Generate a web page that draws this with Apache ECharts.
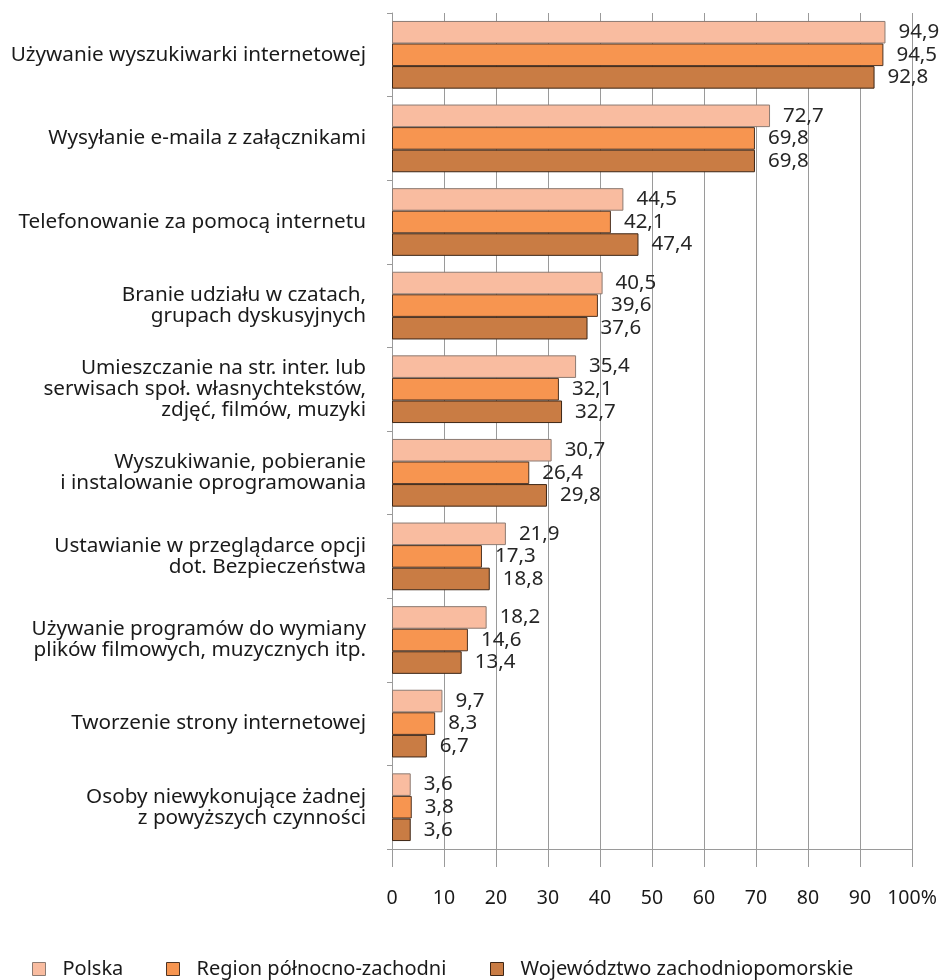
<!DOCTYPE html>
<html>
<head>
<meta charset="utf-8">
<script src="https://cdn.jsdelivr.net/npm/echarts@6/dist/echarts.min.js"></script>
<style>
  html, body { margin: 0; padding: 0; background: #fff; }
  #chart { width: 943px; height: 980px; }
</style>
</head>
<body>
<div id="chart"></div>
<script>
// Activities (top to bottom)
const categories = [
  'Używanie wyszukiwarki internetowej',
  'Wysyłanie e-maila z załącznikami',
  'Telefonowanie za pomocą internetu',
  'Branie udziału w czatach,\ngrupach dyskusyjnych',
  'Umieszczanie na str. inter. lub\nserwisach społ. własnychtekstów,\nzdjęć, filmów, muzyki',
  'Wyszukiwanie, pobieranie\ni instalowanie oprogramowania',
  'Ustawianie w przeglądarce opcji\ndot. Bezpieczeństwa',
  'Używanie programów do wymiany\nplików filmowych, muzycznych itp.',
  'Tworzenie strony internetowej',
  'Osoby niewykonujące żadnej\nz powyższych czynności'
];

const seriesNames = ['Polska', 'Region północno-zachodni', 'Województwo zachodniopomorskie'];

// Share of internet users (%)
const polska = [94.9, 72.7, 44.5, 40.5, 35.4, 30.7, 21.9, 18.2, 9.7, 3.6];
const region = [94.5, 69.8, 42.1, 39.6, 32.1, 26.4, 17.3, 14.6, 8.3, 3.8];
const wojewodztwo = [92.8, 69.8, 47.4, 37.6, 32.7, 29.8, 18.8, 13.4, 6.7, 3.6];

const xTicks = [0, 10, 20, 30, 40, 50, 60, 70, 80, 90, 100];

const fills = ['#f9bca0', '#f79550', '#c97c44'];
const borders = ['#8c7b72', '#4d3424', '#3d2616'];
const legendLeft = [32, 166, 490];

const fontFamily = '"Noto Sans", "Open Sans", sans-serif';

function fmt(v) {
  return v.toFixed(1).replace('.', ',');
}

const chart = echarts.init(document.getElementById('chart'), null, { renderer: 'canvas' });

const dataSets = [polska, region, wojewodztwo];

chart.setOption({
  animation: false,
  textStyle: { fontFamily: fontFamily },
  grid: { left: 392, right: 31, top: 13, bottom: 131, containLabel: false },
  legend: seriesNames.map(function (name, i) {
    return {
      top: 959,
      left: legendLeft[i],
      icon: 'rect',
      itemWidth: 13,
      itemHeight: 13,
      padding: 0,
      data: [name],
      itemStyle: { borderColor: borders[i], borderWidth: 1 },
      textStyle: {
        fontFamily: fontFamily,
        fontSize: 20,
        color: '#1a1a1a',
        padding: [0, 0, 0, 12]
      }
    };
  }),
  xAxis: {
    type: 'value',
    min: 0,
    max: 100,
    interval: 10,
    axisLine: { show: true, lineStyle: { color: '#9a9a9a', width: 1 } },
    axisTick: { show: true, length: 18, lineStyle: { color: '#9a9a9a' } },
    splitLine: { show: true, lineStyle: { color: '#9a9a9a', width: 1 } },
    axisLabel: {
      margin: 39,
      fontSize: 19.5,
      color: '#1a1a1a',
      fontFamily: fontFamily,
      formatter: function (v) { return v === xTicks[xTicks.length - 1] ? v + '%' : String(v); }
    }
  },
  yAxis: {
    type: 'category',
    inverse: true,
    data: categories,
    axisLine: { show: true, lineStyle: { color: '#9a9a9a', width: 1 } },
    axisTick: { show: true, length: 5, lineStyle: { color: '#9a9a9a' } },
    axisLabel: {
      margin: 26,
      fontSize: 20.7,
      lineHeight: 21,
      color: '#1a1a1a',
      fontFamily: fontFamily
    }
  },
  series: dataSets.map(function (arr, i) {
    return {
      name: seriesNames[i],
      type: 'bar',
      data: arr,
      barGap: '0%',
      barCategoryGap: '19%',
      itemStyle: { color: fills[i], borderColor: borders[i], borderWidth: 1 },
      label: {
        show: true,
        position: 'right',
        distance: 13,
        fontSize: 20.5,
        color: '#262626',
        fontFamily: fontFamily,
        formatter: function (p) { return fmt(p.value); }
      }
    };
  })
});
</script>
</body>
</html>
